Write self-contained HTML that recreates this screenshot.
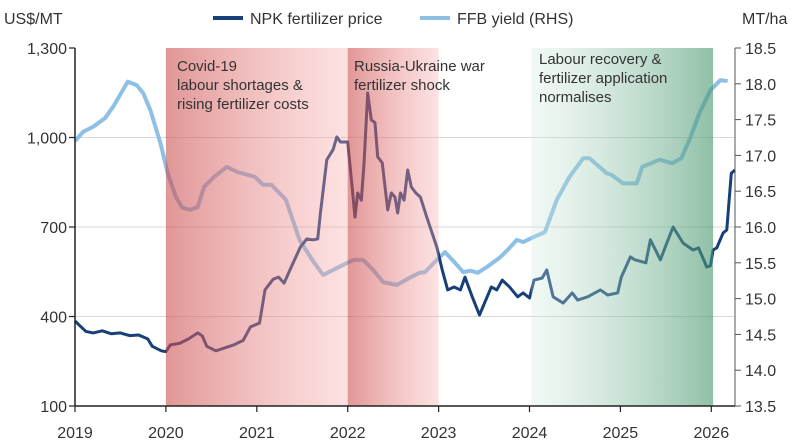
<!DOCTYPE html>
<html><head><meta charset="utf-8"><style>
body{margin:0;background:#fff;}
svg{display:block;font-family:"Liberation Sans",sans-serif;}
</style></head><body>
<svg id="c" width="800" height="444" viewBox="0 0 800 444">
<defs>
<linearGradient id="gR1" x1="0" x2="1"><stop offset="0" stop-color="rgb(205,80,80)" stop-opacity="0.6"/><stop offset="1" stop-color="rgb(250,170,170)" stop-opacity="0.35"/></linearGradient>
<linearGradient id="gR2" x1="0" x2="1"><stop offset="0" stop-color="rgb(205,80,80)" stop-opacity="0.6"/><stop offset="1" stop-color="rgb(250,170,170)" stop-opacity="0.35"/></linearGradient>
<linearGradient id="gG" x1="0" x2="1"><stop offset="0" stop-color="rgb(210,235,222)" stop-opacity="0.3"/><stop offset="1" stop-color="rgb(70,150,110)" stop-opacity="0.6"/></linearGradient>
</defs>
<g id="grid"></g><g id="lines"></g><g id="shade"></g><g id="axes"></g><g id="notes"></g>
</svg>
<script>
const npkT=[2019.00,2019.05,2019.12,2019.2,2019.3,2019.4,2019.5,2019.6,2019.7,2019.8,2019.85,2019.95,2020.0,2020.05,2020.15,2020.25,2020.35,2020.4,2020.45,2020.55,2020.65,2020.75,2020.85,2020.93,2021.03,2021.09,2021.18,2021.24,2021.3,2021.4,2021.48,2021.55,2021.62,2021.67,2021.7,2021.77,2021.84,2021.88,2021.92,2022.0,2022.05,2022.08,2022.11,2022.15,2022.18,2022.22,2022.26,2022.3,2022.33,2022.38,2022.44,2022.48,2022.52,2022.55,2022.58,2022.62,2022.66,2022.7,2022.75,2022.8,2022.87,2022.98,2023.04,2023.1,2023.17,2023.24,2023.29,2023.37,2023.45,2023.58,2023.64,2023.7,2023.78,2023.87,2023.93,2024.0,2024.05,2024.14,2024.19,2024.26,2024.37,2024.47,2024.53,2024.64,2024.78,2024.86,2024.97,2025.01,2025.11,2025.16,2025.28,2025.33,2025.44,2025.51,2025.58,2025.69,2025.8,2025.86,2025.95,2025.99,2026.02,2026.06,2026.13,2026.17,2026.22,2026.26];
const npkV=[385,370,350,345,352,342,345,336,338,325,300,285,282,305,310,325,345,335,300,285,295,305,320,365,378,489,525,532,512,580,633,660,657,660,747,925,960,1002,985,985,830,733,814,790,915,1149,1059,1050,935,915,757,814,800,747,814,790,891,834,814,800,733,633,556,489,499,489,532,466,405,499,489,522,499,466,479,462,522,529,556,466,445,479,455,466,489,472,479,532,600,590,580,657,590,646,700,646,623,630,566,570,623,630,680,690,880,891];
const ffbT=[2019.0,2019.09,2019.2,2019.33,2019.42,2019.58,2019.68,2019.75,2019.83,2019.94,2020.02,2020.11,2020.18,2020.27,2020.35,2020.42,2020.53,2020.67,2020.78,2020.98,2021.07,2021.16,2021.32,2021.47,2021.61,2021.73,2021.84,2022.06,2022.17,2022.28,2022.39,2022.54,2022.68,2022.79,2022.85,2022.98,2023.07,2023.18,2023.27,2023.35,2023.43,2023.53,2023.67,2023.76,2023.86,2023.93,2024.03,2024.17,2024.3,2024.44,2024.59,2024.66,2024.85,2024.9,2025.03,2025.18,2025.24,2025.43,2025.57,2025.67,2025.76,2025.87,2025.99,2026.1,2026.18];
const ffbV=[17.2,17.33,17.40,17.52,17.68,18.03,17.98,17.87,17.63,17.17,16.75,16.42,16.27,16.24,16.28,16.56,16.70,16.84,16.77,16.70,16.59,16.59,16.38,15.82,15.54,15.33,15.40,15.54,15.54,15.40,15.23,15.19,15.29,15.36,15.37,15.54,15.65,15.50,15.37,15.39,15.36,15.44,15.57,15.68,15.82,15.79,15.85,15.93,16.38,16.70,16.96,16.96,16.75,16.73,16.61,16.61,16.84,16.94,16.89,16.96,17.22,17.59,17.91,18.05,18.04];
const leftTicks=[100,400,700,1000,1300];
const leftLabels=["100","400","700","1,000","1,300"];
const rightTicks=[13.5,14.0,14.5,15.0,15.5,16.0,16.5,17.0,17.5,18.0,18.5];
const yearTicks=[2019,2020,2021,2022,2023,2024,2025,2026];
const shades=[[2020,2022,"gR1","covid-shading"],[2022,2023,"gR2","war-shading"],[2024.02,2026.02,"gG","recovery-shading"]];
const X0=75,X1=735,Y0=406,Y1=48;
const x=t=>X0+(t-2019)*90.9;
const yL=v=>Y0-(v-100)/1200*(Y0-Y1);
const yR=v=>Y0-(v-13.5)/5*(Y0-Y1);
const NS="http://www.w3.org/2000/svg";
function mk(tag,attrs,parent,text){const e=document.createElementNS(NS,tag);for(const k in attrs)e.setAttribute(k,attrs[k]);if(text!==undefined)e.textContent=text;document.getElementById(parent).appendChild(e);return e;}
leftTicks.forEach((v,i)=>{
  if(i>0&&i<leftTicks.length-1){const g=mk("line",{x1:X0,x2:X1,y1:yL(v),y2:yL(v),stroke:"#d9d9d9","stroke-width":1},"grid");
  
  }
  const tk=mk("line",{x1:X0-6,x2:X0,y1:yL(v),y2:yL(v),stroke:"#222","stroke-width":1.2},"axes");
  
  
  const t=mk("text",{x:X0-8,y:yL(v)+6,"text-anchor":"end","font-size":16,fill:"#333"},"axes",leftLabels[i]);
  
  
});
rightTicks.forEach(v=>{
  const tk=mk("line",{x1:X1,x2:X1+6,y1:yR(v),y2:yR(v),stroke:"#555","stroke-width":1},"axes");
  
  
  const t=mk("text",{x:X1+10,y:yR(v)+6,"font-size":16,fill:"#333"},"axes",v.toFixed(1));
  
  
});
yearTicks.forEach(yr=>{
  const tk=mk("line",{x1:x(yr),x2:x(yr),y1:Y0,y2:Y0+6,stroke:"#222","stroke-width":1.2},"axes");
  
  
  const t=mk("text",{x:x(yr),y:438,"text-anchor":"middle","font-size":16,fill:"#333"},"axes",String(yr));
  
  
});
let a=mk("line",{x1:X0,x2:X0,y1:Y1,y2:Y0,stroke:"#222","stroke-width":1.5},"axes");


a=mk("line",{x1:X1,x2:X1,y1:Y1,y2:Y0,stroke:"#555","stroke-width":1},"axes");


a=mk("line",{x1:X0,x2:X1,y1:Y0,y2:Y0,stroke:"#222","stroke-width":1.5},"axes");


const ffb=mk("polyline",{points:ffbT.map((t,i)=>x(t)+","+yR(ffbV[i])).join(" "),fill:"none",stroke:"#8ec0e6","stroke-width":4,"stroke-linejoin":"round"},"lines");


const npk=mk("polyline",{points:npkT.map((t,i)=>x(t)+","+yL(npkV[i])).join(" "),fill:"none",stroke:"#173f78","stroke-width":3,"stroke-linejoin":"round"},"lines");


shades.forEach(s=>{
  const r=mk("rect",{x:x(s[0]),y:Y1,width:x(s[1])-x(s[0]),height:Y0-Y1,fill:"url(#"+s[2]+")"},"shade");
  
  
});
const notes=[[177,71,"Covid-19"],[177,90,"labour shortages &"],[177,109,"rising fertilizer costs"],[354,71,"Russia-Ukraine war"],[354,90,"fertilizer shock"],[539,64,"Labour recovery &"],[539,83,"fertilizer application"],[539,102,"normalises"]];
notes.forEach(n=>{
  const t=mk("text",{x:n[0],y:n[1],"font-size":15,fill:"#333"},"notes",n[2]);
  
  
});
let t=mk("text",{x:4,y:24,"font-size":16,fill:"#333"},"notes","US$/MT");


t=mk("text",{x:742,y:24,"font-size":16,fill:"#333"},"notes","MT/ha");


let l=mk("line",{x1:213,x2:243,y1:18,y2:18,stroke:"#173f78","stroke-width":4},"notes");


t=mk("text",{x:250,y:24,"font-size":16,fill:"#333"},"notes","NPK fertilizer price");


l=mk("line",{x1:420,x2:450,y1:18,y2:18,stroke:"#8ec0e6","stroke-width":4},"notes");


t=mk("text",{x:457,y:24,"font-size":16,fill:"#333"},"notes","FFB yield (RHS)");


</script>
</body></html>
